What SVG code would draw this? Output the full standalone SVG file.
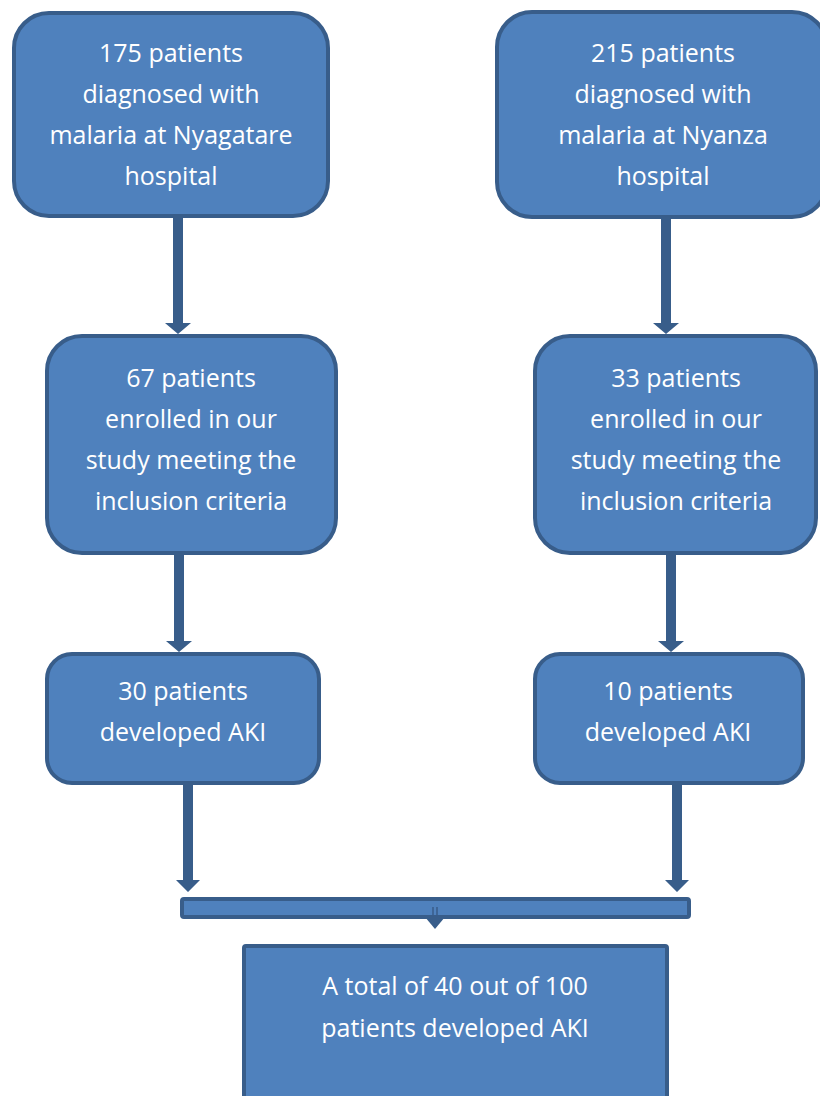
<svg xmlns="http://www.w3.org/2000/svg" width="820" height="1096" viewBox="0 0 820 1096">
<style>
.box{fill:#4F81BD;stroke:#385D8A;stroke-width:4}
.t{fill:#FFFFFF;font-family:"Open Sans","Liberation Sans",sans-serif;font-size:25px;text-anchor:middle}
.arr{fill:#385D8A}
</style>
<rect width="820" height="1096" fill="#FFFFFF"/>
<g id="connectors">
<polygon class="arr" points="173,216 183,216 183,323 191,323 178,334 165,323 173,323"/>
<polygon class="arr" points="661,216 671,216 671,323 679,323 666,334 653,323 661,323"/>
<polygon class="arr" points="174,553 184,553 184,641 192,641 179,652 166,641 174,641"/>
<polygon class="arr" points="666,553 676,553 676,641 684,641 671,652 658,641 666,641"/>
<polygon class="arr" points="183,783 193,783 193,880 200,880 188,892 176,880 183,880"/>
<polygon class="arr" points="672,783 682,783 682,880 689,880 677,892 665,880 672,880"/>
<polygon class="arr" points="425,917 445,917 435,929"/>
</g>
<g id="bar">
<rect class="box" x="182" y="899" width="507" height="18" rx="2"/>
<line x1="433" y1="907" x2="433" y2="917" stroke="#385D8A" stroke-width="1.5"/>
<line x1="437" y1="907" x2="437" y2="917" stroke="#385D8A" stroke-width="1.5"/>
</g>
<g id="n1">
<rect class="box" x="14" y="13" width="314" height="203" rx="35"/>
<text class="t" x="171" y="62">175 patients</text>
<text class="t" x="171" y="103">diagnosed with</text>
<text class="t" x="171" y="144">malaria at Nyagatare</text>
<text class="t" x="171" y="185">hospital</text>
</g>
<g id="n2">
<rect class="box" x="497" y="12" width="330" height="205" rx="35"/>
<text class="t" x="663" y="62">215 patients</text>
<text class="t" x="663" y="103">diagnosed with</text>
<text class="t" x="663" y="144">malaria at Nyanza</text>
<text class="t" x="663" y="185">hospital</text>
</g>
<g id="n3">
<rect class="box" x="47" y="336" width="289" height="217" rx="35"/>
<text class="t" x="191" y="387">67 patients</text>
<text class="t" x="191" y="428">enrolled in our</text>
<text class="t" x="191" y="469">study meeting the</text>
<text class="t" x="191" y="510">inclusion criteria</text>
</g>
<g id="n4">
<rect class="box" x="535" y="336" width="281" height="217" rx="35"/>
<text class="t" x="676" y="387">33 patients</text>
<text class="t" x="676" y="428">enrolled in our</text>
<text class="t" x="676" y="469">study meeting the</text>
<text class="t" x="676" y="510">inclusion criteria</text>
</g>
<g id="n5">
<rect class="box" x="47" y="654" width="272" height="129" rx="25"/>
<text class="t" x="183" y="700">30 patients</text>
<text class="t" x="183" y="741">developed AKI</text>
</g>
<g id="n6">
<rect class="box" x="535" y="654" width="268" height="129" rx="25"/>
<text class="t" x="668" y="700">10 patients</text>
<text class="t" x="668" y="741">developed AKI</text>
</g>
<g id="n7">
<rect class="box" x="244" y="946" width="423" height="170" rx="2"/>
<text class="t" x="455" y="995">A total of 40 out of 100</text>
<text class="t" x="455" y="1037">patients developed AKI</text>
</g>
</svg>
